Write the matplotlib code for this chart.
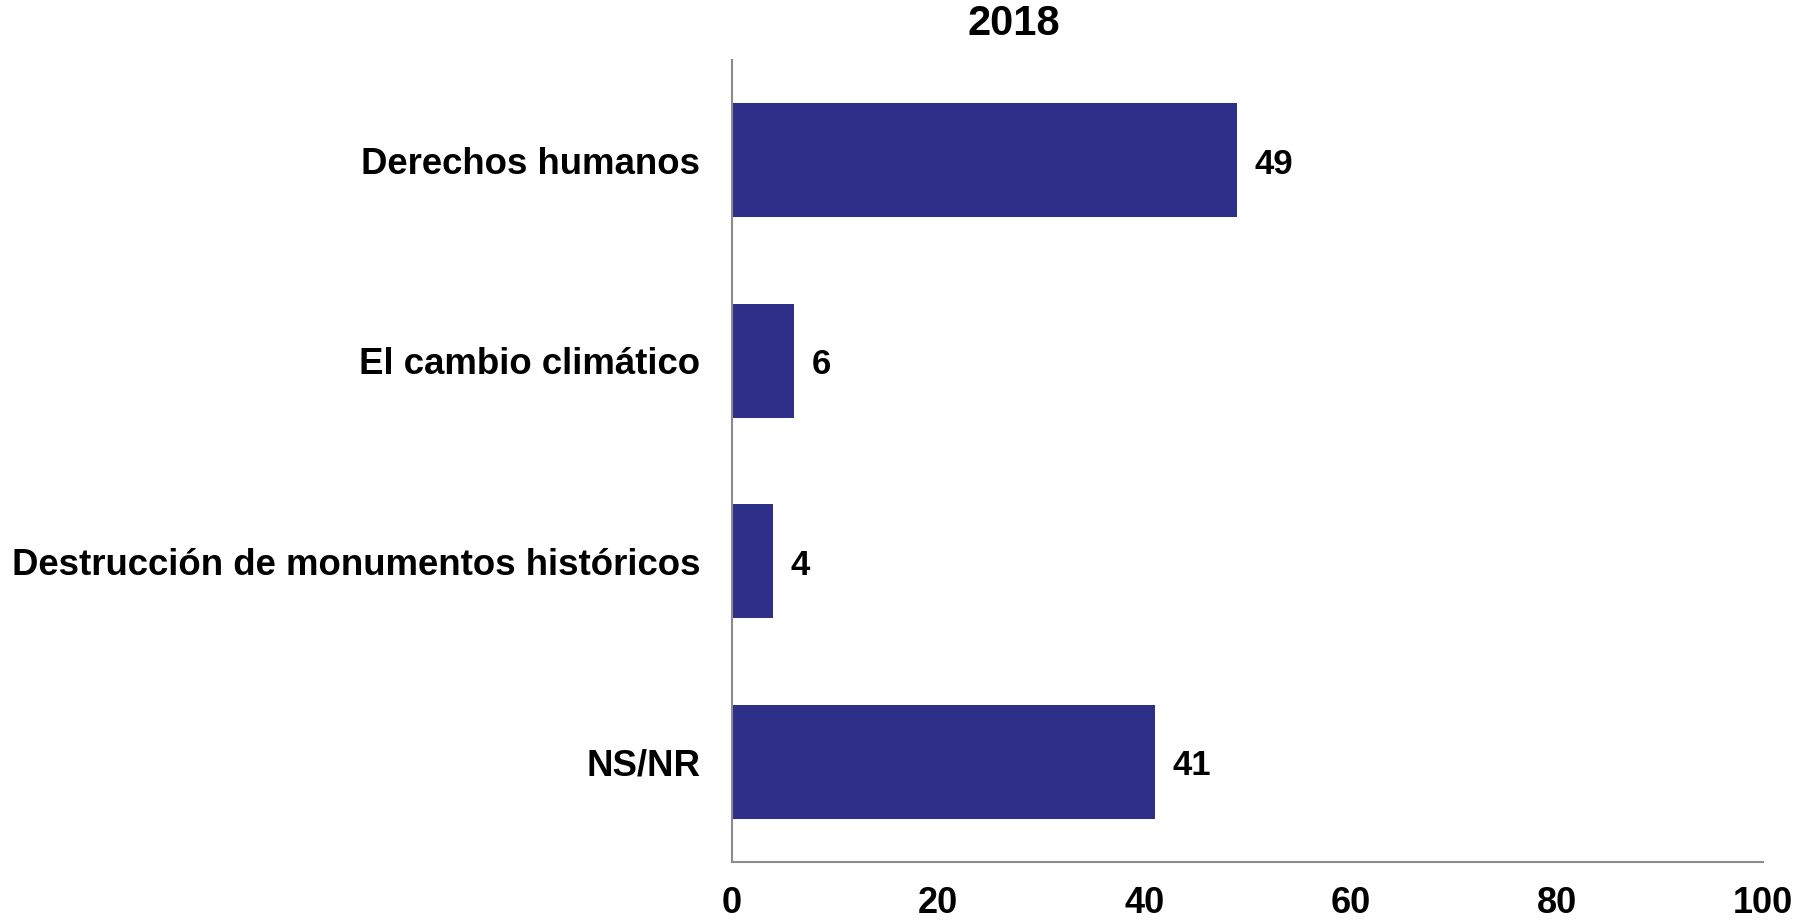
import matplotlib
matplotlib.use('Agg')
import matplotlib.pyplot as plt

categories = ['Derechos humanos', 'El cambio climático',
              'Destrucción de monumentos históricos', 'NS/NR']
values = [49, 6, 4, 41]
xticks = [0, 20, 40, 60, 80, 100]

plt.rcParams['font.family'] = ['Liberation Sans', 'DejaVu Sans']
plt.rcParams['font.weight'] = 'bold'

fig = plt.figure(figsize=(18.14, 9.21), dpi=100)
ax = fig.add_axes([0.4035, 0.0641, 0.9719 - 0.4035, 0.9349 - 0.0641])

ypos = list(range(len(categories)))
bars = ax.barh(ypos, values, height=0.57, color='#2E2F88')

# value labels at the end of each bar
for y, v in zip(ypos, values):
    ax.text(v + 1.7, y + 0.02, str(v), va='center', ha='left',
            fontsize=25, fontweight='bold')

ax.set_ylim(len(categories) - 0.5, -0.5)
ax.set_xlim(0, 100)
ax.set_yticks(ypos)
ax.set_yticklabels(categories, fontsize=26.4, fontweight='bold')
ax.set_xticks(xticks)
ax.set_xticklabels([str(t) for t in xticks], fontsize=26, fontweight='bold')
ax.tick_params(axis='y', length=0, pad=23)
ax.tick_params(axis='x', length=0, pad=17)

for s in ['top', 'right']:
    ax.spines[s].set_visible(False)
for s in ['left', 'bottom']:
    ax.spines[s].set_color('#8c8c8c')
    ax.spines[s].set_linewidth(1.5)

fig.text(0.559, 0.974, '2018', ha='center', va='center',
         fontsize=30, fontweight='bold')

fig.savefig('out.png', dpi=100)
